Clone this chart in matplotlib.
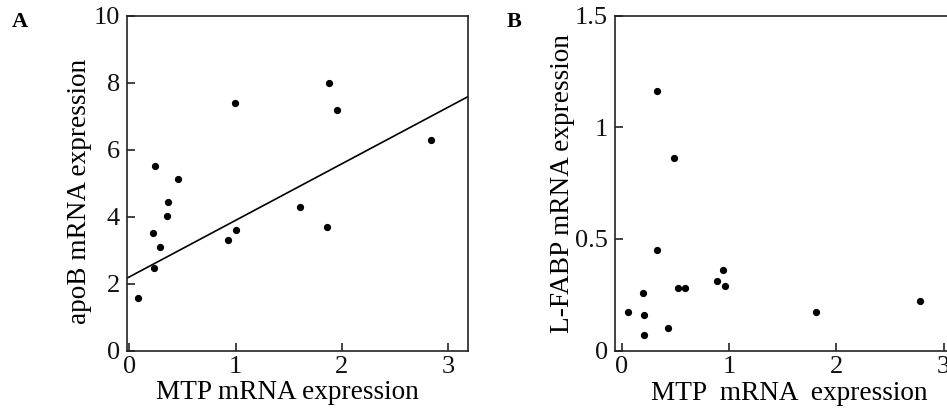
import numpy as np
import matplotlib.pyplot as plt

plt.rcParams['font.family'] = ['Liberation Serif', 'DejaVu Serif']

# panel A: MTP vs apoB
mtp_a = [0.08, 0.23, 0.225, 0.24, 0.29, 0.35, 0.36, 0.46, 0.93, 1.00, 0.99,
         1.61, 1.86, 1.88, 1.96, 2.84]
apob = [1.57, 2.46, 3.50, 5.50, 3.09, 4.03, 4.45, 5.12, 3.30, 3.59, 7.40,
        4.30, 3.70, 7.98, 7.19, 6.30]
fit_x = [-0.03, 3.2]
fit_y = [2.15, 7.60]

# panel B: MTP vs L-FABP
mtp_b = [0.056, 0.195, 0.207, 0.205, 0.326, 0.326, 0.431, 0.486, 0.524,
         0.592, 0.890, 0.946, 0.962, 1.807, 2.775]
lfabp = [0.171, 0.256, 0.161, 0.070, 1.164, 0.452, 0.103, 0.864, 0.280,
         0.280, 0.313, 0.361, 0.291, 0.174, 0.224]

fig = plt.figure(figsize=(9.47, 4.09), dpi=100)
axA = fig.add_axes([0.1338, 0.143, 0.3604, 0.8186])
axB = fig.add_axes([0.6494, 0.143, 0.3664, 0.8186])

for ax in (axA, axB):
    for s in ax.spines.values():
        s.set_linewidth(1.2)
        s.set_color('#222222')
    ax.tick_params(direction='in', length=6, width=1.1, labelsize=19, pad=5,
                   colors='#111111')
    ax.tick_params(axis='x', pad=4)

# A
axA.plot(fit_x, fit_y, color='black', lw=1.2)
axA.plot(mtp_a, apob, 'o', color='black', ms=4.2)
axA.set_xlim(-0.026, 3.19)
axA.set_ylim(0, 10)
axA.set_xticks([0, 1, 2, 3])
axA.set_yticks([0, 2, 4, 6, 8, 10])
axA.set_xlabel('MTP mRNA expression', fontsize=19.6, va='center')
axA.set_ylabel('apoB mRNA expression', fontsize=19.6, va='center')
axA.xaxis.set_label_coords(0.471, -0.125)
axA.yaxis.set_label_coords(-0.137, 0.475)

# B
axB.plot(mtp_b, lfabp, 'o', color='black', ms=4.2)
axB.set_xlim(-0.062, 3.17)
axB.set_ylim(0, 1.5)
axB.set_xticks([0, 1, 2, 3])
axB.set_yticks([0, 0.5, 1, 1.5])
axB.set_yticklabels(['0', '0.5', '1', '1.5'])
axB.set_xlabel('MTP  mRNA  expression', fontsize=19.6, va='center')
axB.set_ylabel('L-FABP mRNA expression', fontsize=19.6, va='center')
axB.xaxis.set_label_coords(0.501, -0.128)
axB.yaxis.set_label_coords(-0.150, 0.498)

fig.text(0.012, 0.945, 'A', fontsize=16, fontweight='bold', va='center')
fig.text(0.535, 0.945, 'B', fontsize=16, fontweight='bold', va='center')

plt.savefig('out.png', dpi=100)
plt.close()
